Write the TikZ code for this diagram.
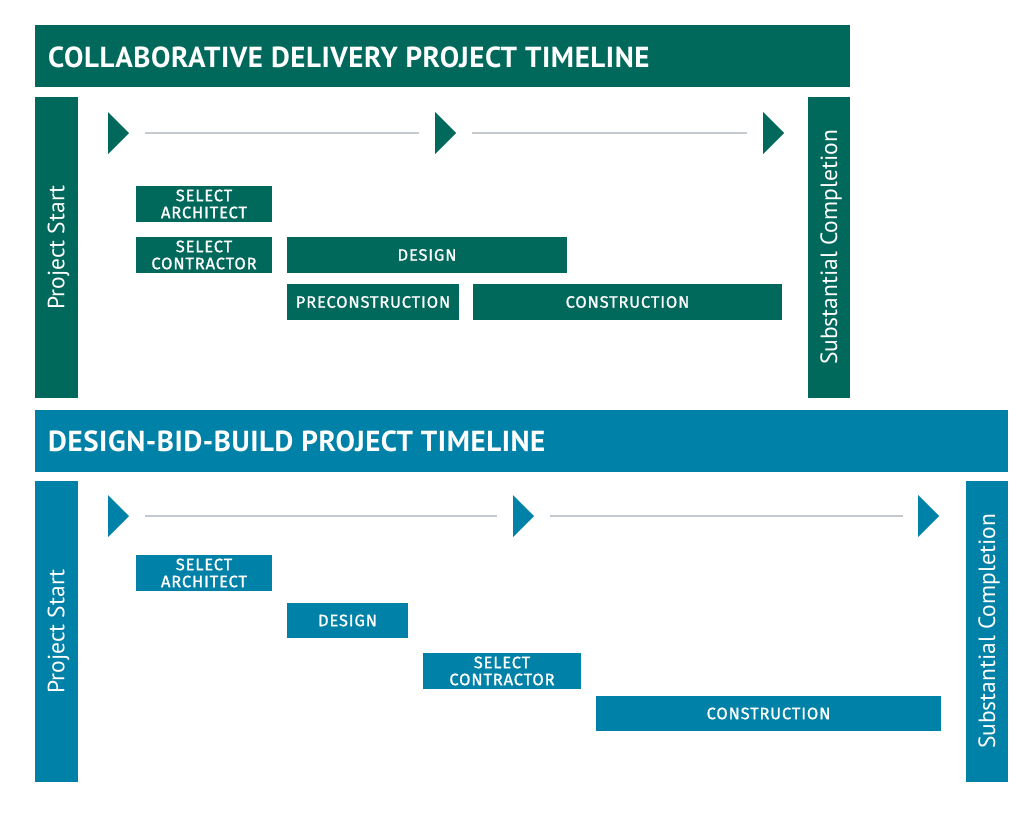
\documentclass[tikz,border=0pt]{standalone}
\usepackage{fontspec}
\setmainfont{PT Sans}
\newfontfamily\taskfont[LetterSpace=5, FakeBold=1.1]{Fira Sans}
\newfontfamily\headfont[LetterSpace=2]{PT Sans Bold}
\usetikzlibrary{fit}

\definecolor{cdgreen}{HTML}{00695C}
\definecolor{dbbblue}{HTML}{0081A7}
\definecolor{trackgrey}{HTML}{C4CACD}

\tikzset{
  band/.style={fill=#1, draw=none, inner sep=0pt},
  task/.style={fill=#1, draw=none, inner sep=0pt, text=white, align=center,
    font=\taskfont\fontsize{16.5}{17}\selectfont},
  heading/.style={anchor=west, text=white, inner sep=0pt,
    font=\headfont\fontsize{29}{33}\selectfont},
  sidelabel/.style={rotate=90, text=white, inner sep=0pt,
    font=\fontsize{23.5}{28}\selectfont},
  track/.style={trackgrey, line width=2pt}
}

\begin{document}
\begin{tikzpicture}[x=1pt, y=-1pt]
        \useasboundingbox (0,0) rectangle (1024,822);

        % collaborative delivery
        \node[band=cdgreen, fit={(35,25) (850,87)}] (cdhead) {};
        \node[heading] (cdtitle) at (48,57) {COLLABORATIVE DELIVERY PROJECT TIMELINE};
        \node[band=cdgreen, fit={(35,97) (78,398)}] (cdstart) {};
        \node[sidelabel] (cdstartlbl) at ([xshift=2pt]cdstart) {Project Start};
        \node[band=cdgreen, fit={(808,97) (850,398)}] (cdend) {};
        \node[sidelabel] (cdendlbl) at ([xshift=2pt]cdend) {Substantial Completion};
        \foreach \x/\n in {108/cm1, 435/cm2, 763/cm3} {
            \coordinate (\n) at (\x,133);
            \fill[cdgreen] (\x,112) -- ++(21,21) -- ++(-21,21) -- cycle;
        }
        \draw[track, shorten <=37pt, shorten >=16pt] (cm1) -- (cm2);
        \draw[track, shorten <=37pt, shorten >=16pt] (cm2) -- (cm3);
        \node[task=cdgreen, minimum width=136pt, minimum height=36pt] (cdarch) at (204,204) {SELECT\\ARCHITECT};
        \node[task=cdgreen, minimum width=136pt, minimum height=36pt] (cdcont) at (204,255) {SELECT\\CONTRACTOR};
        \node[task=cdgreen, minimum width=280pt, minimum height=36pt] (cddesign) at (427,255) {DESIGN};
        \node[task=cdgreen, minimum width=172pt, minimum height=36pt] (cdprecon) at (373,302) {PRECONSTRUCTION};
        \node[task=cdgreen, minimum width=309pt, minimum height=36pt] (cdcon) at (627.5,302) {CONSTRUCTION};

        % design-bid-build
        \node[band=dbbblue, fit={(35,410) (1008,472)}] (dbbhead) {};
        \node[heading] (dbbtitle) at (48,441) {DESIGN-BID-BUILD PROJECT TIMELINE};
        \node[band=dbbblue, fit={(35,481) (78,782)}] (dbbstart) {};
        \node[sidelabel] (dbbstartlbl) at ([xshift=2pt]dbbstart) {Project Start};
        \node[band=dbbblue, fit={(966,481) (1008,782)}] (dbbend) {};
        \node[sidelabel] (dbbendlbl) at ([xshift=2pt]dbbend) {Substantial Completion};
        \foreach \x/\n in {108/bm1, 513/bm2, 918/bm3} {
            \coordinate (\n) at (\x,516);
            \fill[dbbblue] (\x,495) -- ++(21,21) -- ++(-21,21) -- cycle;
        }
        \draw[track, shorten <=37pt, shorten >=16pt] (bm1) -- (bm2);
        \draw[track, shorten <=37pt, shorten >=15pt] (bm2) -- (bm3);
        \node[task=dbbblue, minimum width=136pt, minimum height=36pt] (dbbarch) at (204,573) {SELECT\\ARCHITECT};
        \node[task=dbbblue, minimum width=121pt, minimum height=35pt] (dbbdesign) at (347.5,620.5) {DESIGN};
        \node[task=dbbblue, minimum width=158pt, minimum height=36pt] (dbbcont) at (502,671) {SELECT\\CONTRACTOR};
        \node[task=dbbblue, minimum width=345pt, minimum height=35pt] (dbbcon) at (768.5,713.5) {CONSTRUCTION};
    \end{tikzpicture}
\end{document}
